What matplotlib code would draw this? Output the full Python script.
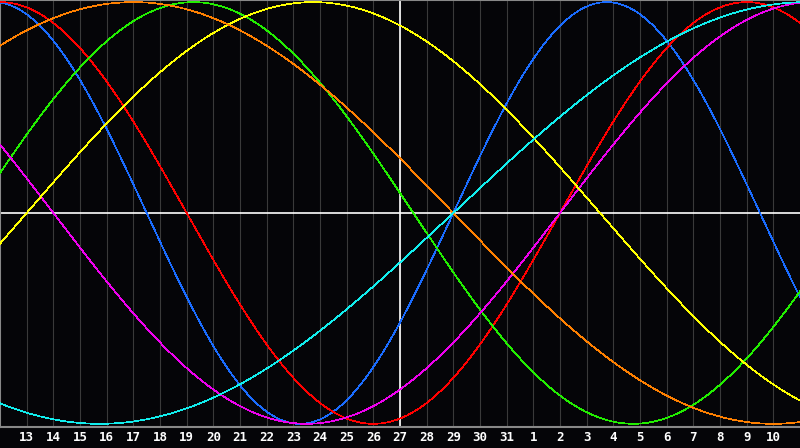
import numpy as np
import matplotlib.pyplot as plt

# biorhythm chart, 30 days shown, today marked
day_labels = list(range(13, 32)) + list(range(1, 11))   # ticks 1..29
today_index = 15          # day 27
days_alive_today = 29254  # days since birth on day 27

cycle_names = ['physical', 'emotional', 'intellectual', 'intuitive',
               'aesthetic', 'awareness', 'spiritual']
cycle_periods = [23, 28, 33, 38, 43, 48, 53]
cycle_colors = ['#1a6cff', '#ff0000', '#22ee00', '#ee00ee',
                '#ffff00', '#ff8000', '#11eeee']

bg = '#050508'
fig = plt.figure(figsize=(8, 4.48), dpi=100, facecolor=bg)
ax = fig.add_axes([0, 21 / 448, 1, 427 / 448])
ax.set_facecolor(bg)

x = np.linspace(0, 30, 1201)
for name, T, col in zip(cycle_names, cycle_periods, cycle_colors):
    d = days_alive_today + (x - today_index)
    ax.plot(x, np.sin(2 * np.pi * d / T), color=col, lw=0.5,
            antialiased=False, zorder=3, label=name)

tick_pos = np.arange(1, len(day_labels) + 1)
for p in tick_pos:
    ax.axvline(p, color='#3a3a3a', lw=0.8, zorder=1)
ax.axhline(0, color='white', lw=1.2, zorder=2)
ax.axvline(today_index, color='white', lw=1.2, zorder=2)

ax.set_xlim(0, 30)
ax.set_ylim(-1.015, 1.01)
ax.set_xticks(tick_pos)
ax.set_xticklabels([str(d) for d in day_labels], color='white',
                   fontsize=9, fontweight='bold', family='DejaVu Sans Mono')
ax.tick_params(axis='x', length=0, pad=3)
ax.set_yticks([])
for side in ['left', 'top', 'bottom']:
    ax.spines[side].set_color('#888888')
    ax.spines[side].set_linewidth(1.5)
ax.spines['right'].set_visible(False)

fig.savefig('out.png', dpi=100, facecolor=bg)
